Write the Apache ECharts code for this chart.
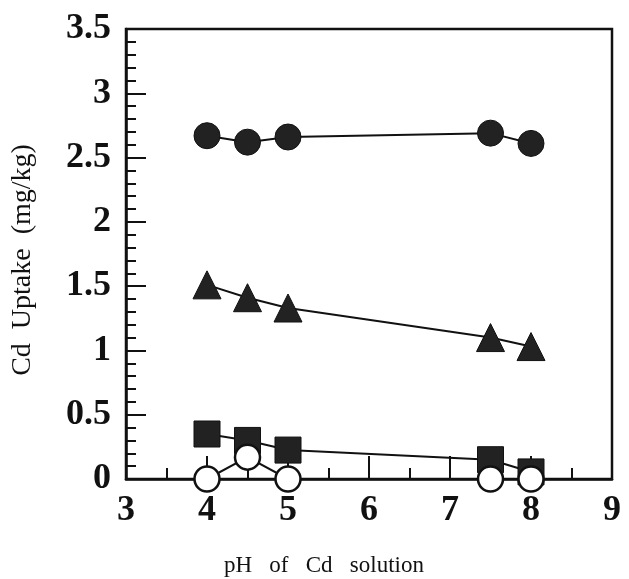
<!DOCTYPE html>
<html>
<head>
<meta charset="utf-8">
<script src="https://cdn.jsdelivr.net/npm/echarts@6/dist/echarts.min.js"></script>
<style>
	html, body { margin: 0; padding: 0; background: #fff; }
	#chart { width: 629px; height: 579px; }
</style>
</head>
<body>
<div id="chart"></div>
<script>
	// 数据
	var phValues = [4, 4.5, 5, 7.5, 8];
	var filledCircle = [2.67, 2.62, 2.66, 2.69, 2.61];
	var filledTriangle = [1.51, 1.41, 1.33, 1.10, 1.03];
	var filledSquare = [0.35, 0.30, 0.225, 0.15, 0.055];
	var openCircle = [0, 0.17, 0, 0, 0];

	var xTitle = 'pH   of   Cd   solution';
	var yTitle = 'Cd  Uptake  (mg/kg)';

	var serif = 'Liberation Serif';

	function pairs(ys) {
		return phValues.map(function(x, i) { return [x, ys[i]]; });
	}

	function makeSeries(name, ys, symbol, size, fill) {
		return {
			name: name,
			type: 'line',
			data: pairs(ys),
			symbol: symbol,
			symbolSize: size,
			clip: false,
			lineStyle: { color: '#111', width: 2 },
			itemStyle: {
				color: fill,
				borderColor: '#111',
				borderWidth: fill === '#fff' ? 2.5 : 1
			},
			emphasis: { disabled: true }
		};
	}

	var myChart = echarts.init(document.getElementById('chart'));
	var option = {
		animation: false,
		backgroundColor: '#fff',
		grid: {
			left: 126, right: 17, top: 29, bottom: 100,
			show: true, borderColor: '#111', borderWidth: 2.5,
			backgroundColor: 'transparent'
		},
		// 坐标轴标题（位置不在轴中心，用 graphic 放置）
		graphic: [{
			type: 'text',
			x: 324, y: 566,
			style: {
				text: xTitle, align: 'center', verticalAlign: 'middle',
				font: '23px "Liberation Serif"', fill: '#111'
			}
		}, {
			type: 'text',
			x: 23, y: 260,
			rotation: Math.PI / 2,
			style: {
				text: yTitle, align: 'center', verticalAlign: 'middle',
				font: '28px "Liberation Serif"', fill: '#111'
			}
		}],
		xAxis: {
			type: 'value',
			min: 3, max: 9, interval: 1,
			axisLine: { show: true, lineStyle: { color: '#111', width: 2.5 } },
			axisTick: { show: true, inside: true, length: 23, lineStyle: { color: '#111', width: 2 } },
			minorTick: { show: true, splitNumber: 2, length: 11, lineStyle: { color: '#111', width: 2 } },
			axisLabel: { fontFamily: serif, fontWeight: 'bold', fontSize: 36, color: '#111', margin: 14 },
			splitLine: { show: false }
		},
		yAxis: {
			type: 'value',
			min: 0, max: 3.5, interval: 0.5,
			axisLine: { show: true, lineStyle: { color: '#111', width: 2.5 } },
			axisTick: { show: true, inside: true, length: 20, lineStyle: { color: '#111', width: 2 } },
			minorTick: { show: true, splitNumber: 5, length: 10, lineStyle: { color: '#111', width: 2 } },
			axisLabel: { fontFamily: serif, fontWeight: 'bold', fontSize: 36, color: '#111', margin: 15 },
			splitLine: { show: false }
		},
		series: [
			makeSeries('circle', filledCircle, 'circle', 26, '#222'),
			makeSeries('triangle', filledTriangle, 'triangle', 28, '#222'),
			makeSeries('square', filledSquare, 'rect', 26, '#222'),
			makeSeries('open', openCircle, 'circle', 25, '#fff')
		]
	};
	myChart.setOption(option);
</script>
</body>
</html>
